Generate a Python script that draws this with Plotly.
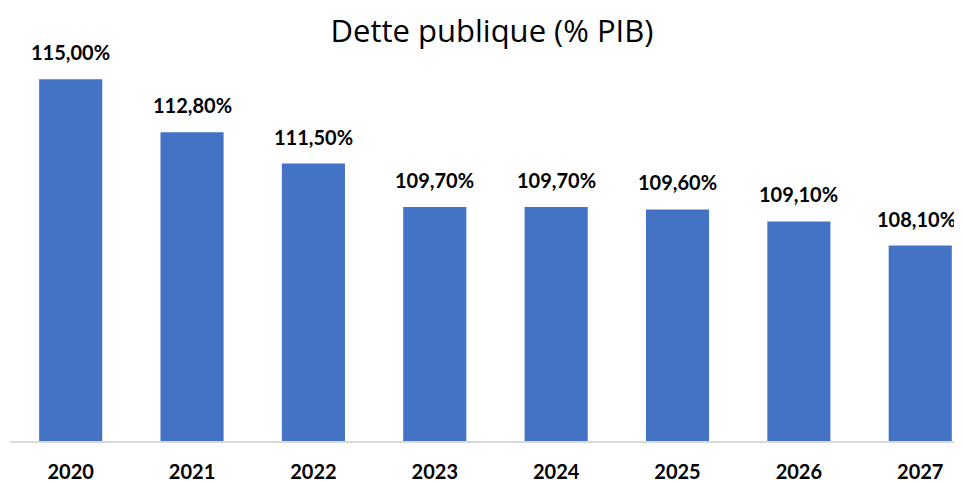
import plotly.graph_objects as go

years = ["2020", "2021", "2022", "2023", "2024", "2025", "2026", "2027"]
dette = [115.0, 112.8, 111.5, 109.7, 109.7, 109.6, 109.1, 108.1]
labels = ["115,00%", "112,80%", "111,50%", "109,70%", "109,70%", "109,60%", "109,10%", "108,10%"]

fig = go.Figure()
fig.add_trace(go.Bar(
    x=list(range(len(years))), y=dette, width=0.52,
    marker=dict(color="#4472C4", line=dict(width=0)),
    hoverinfo="skip",
))
n = len(years)
for i, (v, lab) in enumerate(zip(dette, labels)):
    fig.add_annotation(x=i, y=v, text=lab, showarrow=False, yanchor="bottom",
                       yshift=13, xshift=(-4 if i == n - 1 else 0),
                       font=dict(family="Lato", size=20, color="#000000", weight="bold"))

# page body has 8px margin; offsets below compensate
fig.update_layout(
    width=962, height=481,
    margin=dict(l=2, r=0, t=47, b=48),
    paper_bgcolor="white", plot_bgcolor="white",
    showlegend=False,
    title=dict(text="Dette publique (% PIB)", x=484/962, xanchor="center",
               y=1 - 23/481, yanchor="middle",
               font=dict(family="Open Sans", size=31, color="#000000")),
    xaxis=dict(range=[-0.5, 7.41], showgrid=False, showline=True, zeroline=False,
               tickmode="array", tickvals=list(range(n)), ticktext=years,
               linecolor="#D9D9D9", linewidth=1.5, ticks="", ticklabelstandoff=12,
               tickfont=dict(family="Lato", size=20, color="#000000", weight="bold")),
    yaxis=dict(range=[100, 116], showgrid=False, showline=False, zeroline=False,
               showticklabels=False, ticks=""),
)

fig.write_html("out.html")
